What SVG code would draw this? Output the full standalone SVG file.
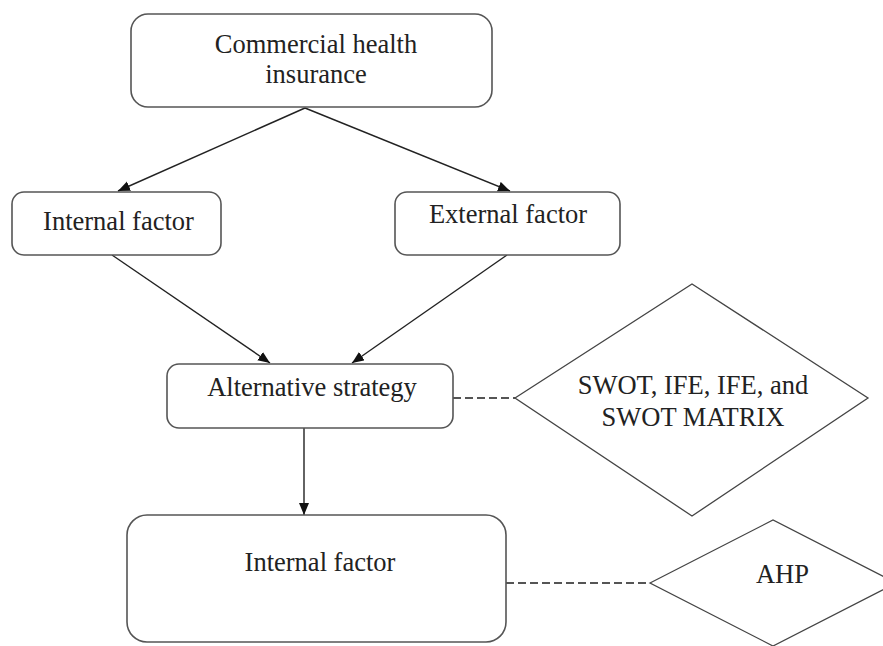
<svg xmlns="http://www.w3.org/2000/svg" width="883" height="646" viewBox="0 0 883 646">
<defs>
<marker id="arr" markerUnits="userSpaceOnUse" markerWidth="13" markerHeight="11" refX="12" refY="5" orient="auto">
<path d="M0,0 L12,5 L0,10 z" fill="#111"/>
</marker>
<style>
.box{fill:#fff;stroke:#555;stroke-width:1.6}
.dia{fill:#fff;stroke:#444;stroke-width:1.3}
.t{font-family:"Liberation Serif","Times New Roman",serif;font-size:26.5px;fill:#222;text-anchor:middle}
.ln{stroke:#222;stroke-width:1.4;fill:none}
.dash{stroke:#555;stroke-width:2;fill:none;stroke-dasharray:8 4}
</style>
</defs>
<rect width="883" height="646" fill="#fff"/>
<g id="connectors">
<line class="ln" x1="305" y1="108" x2="118" y2="191" marker-end="url(#arr)"/>
<line class="ln" x1="305" y1="108" x2="510" y2="191" marker-end="url(#arr)"/>
<line class="ln" x1="112" y1="255" x2="270" y2="363" marker-end="url(#arr)"/>
<line class="ln" x1="507" y1="255" x2="352" y2="363" marker-end="url(#arr)"/>
<line class="ln" x1="304" y1="428" x2="304" y2="515" marker-end="url(#arr)"/>
<line class="dash" x1="453" y1="398" x2="515" y2="398"/>
<line class="dash" x1="506" y1="583" x2="650" y2="583"/>
</g>
<g id="node-commercial">
<rect class="box" x="131" y="14" width="361" height="93" rx="17"/>
<text class="t" x="316" y="53">Commercial health</text>
<text class="t" x="316" y="83">insurance</text>
</g>
<g id="node-internal">
<rect class="box" x="12" y="192" width="209" height="63" rx="12"/>
<text class="t" x="118.5" y="230">Internal factor</text>
</g>
<g id="node-external">
<rect class="box" x="395" y="192" width="225" height="63" rx="12"/>
<text class="t" x="508" y="223">External factor</text>
</g>
<g id="node-alternative">
<rect class="box" x="167" y="364" width="286" height="64" rx="12"/>
<text class="t" x="312" y="396">Alternative strategy</text>
</g>
<g id="node-swot">
<polygon class="dia" points="515,398 692,284 868,398 692,516"/>
<text class="t" x="693" y="394">SWOT, IFE, IFE, and</text>
<text class="t" x="693" y="426">SWOT MATRIX</text>
</g>
<g id="node-internal2">
<rect class="box" x="127" y="515" width="379" height="127" rx="20"/>
<text class="t" x="320" y="571">Internal factor</text>
</g>
<g id="node-ahp">
<polygon class="dia" points="650,583 773,520 896,583 773,646"/>
<text class="t" x="782.5" y="583">AHP</text>
</g>
</svg>
